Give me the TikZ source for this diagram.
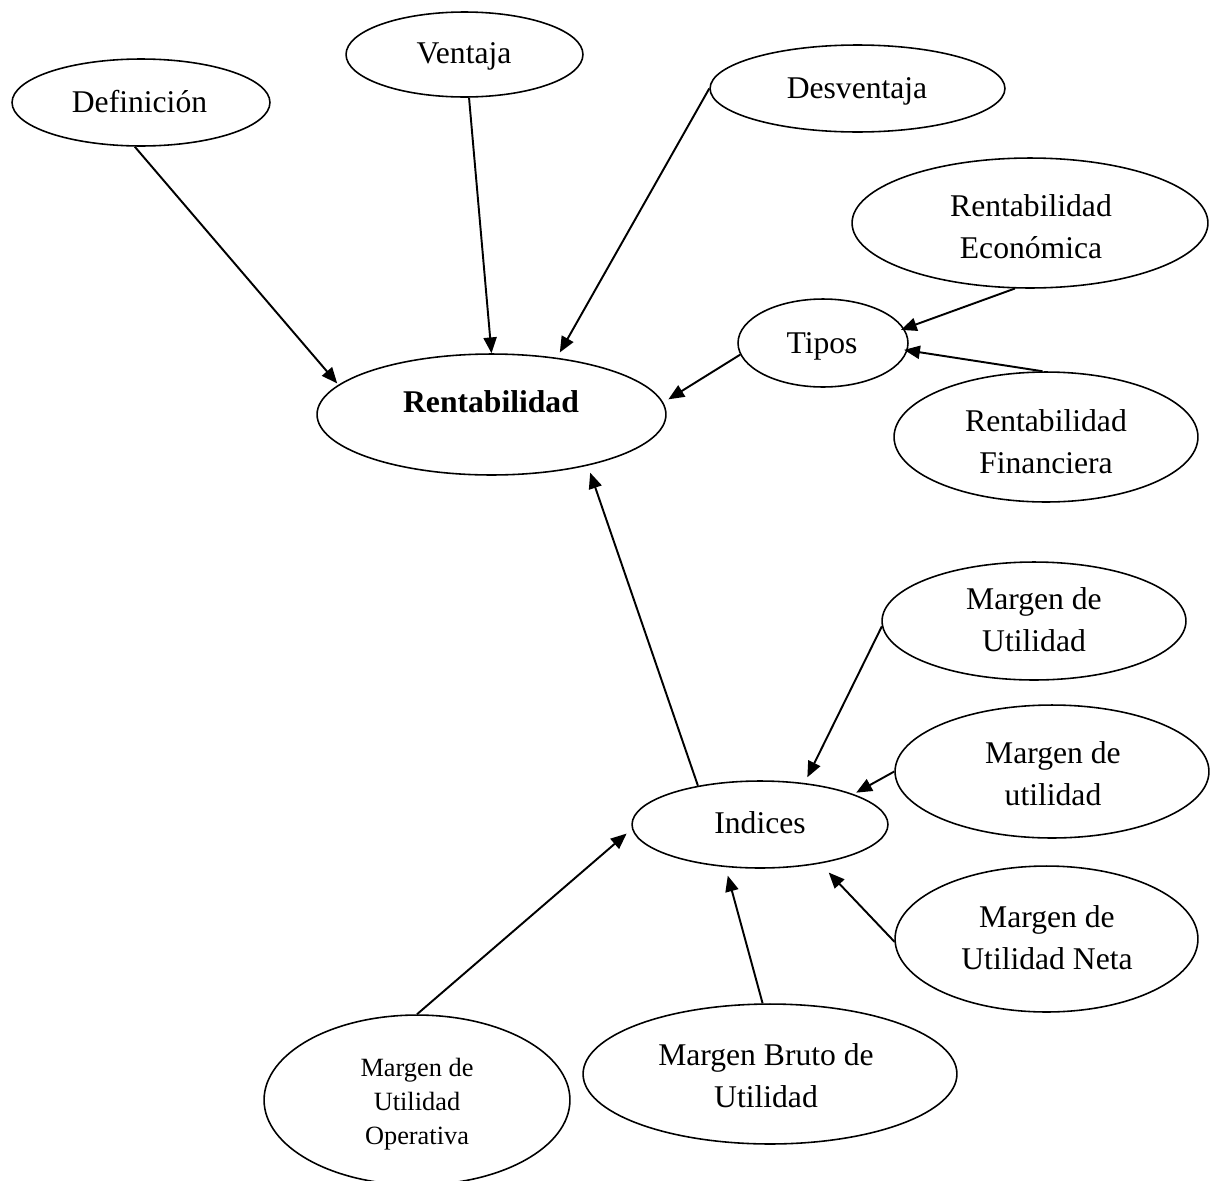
\documentclass[tikz,border=0pt]{standalone}
\usepackage{fontspec}
\setmainfont{Liberation Serif}
\usetikzlibrary{shapes.geometric,arrows.meta}
\begin{document}
\begin{tikzpicture}[x=0.02cm,y=-0.02cm,
  ell/.style 2 args={ellipse,draw,line width=0.9pt,inner sep=0pt,
    minimum width=#1*0.04cm,minimum height=#2*0.04cm},
  lbl/.style={anchor=base,inner sep=0pt,font=\fontsize{18}{24}\selectfont},
  lblsm/.style={anchor=base,inner sep=0pt,font=\fontsize{15}{19.6}\selectfont},
  conn/.style={line width=1.1pt,-{Triangle[length=9pt,width=7.5pt]}}]
\clip (0,0) rectangle (1217,1180);
\fill[white] (0,0) rectangle (1217,1180);

% ellipses
\node[ell={129}{43.5}]   (def)  at (141,102.5) {};
\node[ell={118.5}{42.5}] (ven)  at (464.5,54.5) {};
\node[ell={147.5}{43.5}] (des)  at (857.5,88.5) {};
\node[ell={178}{65}]     (eco)  at (1030,223) {};
\node[ell={85}{44}]      (tip)  at (823,343) {};
\node[ell={152}{65}]     (fin)  at (1046,437) {};
\node[ell={174.5}{60.5}] (ren)  at (491.5,414.5) {};
\node[ell={152}{59}]     (mu1)  at (1034,621) {};
\node[ell={157}{66.5}]   (mu2)  at (1052,771.5) {};
\node[ell={151.5}{73}]   (neta) at (1046.5,939) {};
\node[ell={128}{43.5}]   (ind)  at (760,824.5) {};
\node[ell={187}{70}]     (bru)  at (770,1074) {};
\node[ell={153}{85}]     (ope)  at (417,1100) {};

% texts
\node[lbl] (tdef) at (139.5,112) {Definición};
\node[lbl] (tven) at (464,63) {Ventaja};
\node[lbl] (tdes) at (857,98) {Desventaja};
\node[lbl] (teco) at (1031,216) {\begin{tabular}[t]{@{}c@{}}Rentabilidad\\Económica\end{tabular}};
\node[lbl] (ttip) at (822,353) {Tipos};
\node[lbl] (tfin) at (1046,431) {\begin{tabular}[t]{@{}c@{}}Rentabilidad\\Financiera\end{tabular}};
\node[lbl,font=\fontsize{18}{24}\selectfont\bfseries] (tren) at (491,412) {Rentabilidad};
\node[lbl] (tmu1) at (1034,609) {\begin{tabular}[t]{@{}c@{}}Margen de\\Utilidad\end{tabular}};
\node[lbl] (tmu2) at (1053,763) {\begin{tabular}[t]{@{}c@{}}Margen de\\utilidad\end{tabular}};
\node[lbl] (tneta) at (1047,927) {\begin{tabular}[t]{@{}c@{}}Margen de\\Utilidad Neta\end{tabular}};
\node[lbl] (tind) at (760,833) {Indices};
\node[lbl] (tbru) at (766,1065) {\begin{tabular}[t]{@{}c@{}}Margen Bruto de\\Utilidad\end{tabular}};
\node[lblsm] (tope) at (417,1076) {\begin{tabular}[t]{@{}c@{}}Margen de\\Utilidad\\Operativa\end{tabular}};

% connectors
\draw[conn,shorten >=1pt]   (def.262) -- (ren.169);
\draw[conn]                 (ven.276) -- (ren.90);
\draw[conn,shorten >=3.4pt] (des.180) -- (ren.41);
\draw[conn,shorten >=3.4pt] (tip.188) -- (ren.4);
\draw[conn,shorten >=-2pt]  (eco.257) -- (tip.10);
\draw[conn,shorten >=-2pt]  (fin.93) -- (tip.355);
\draw[conn,shorten >=4.2pt] (ind.148) -- (ren.332);
\draw[conn,shorten >=3.6pt] (mu1.182) -- (ind.43);
\draw[conn,shorten >=1.7pt] (mu2.180) -- (ind.18);
\draw[conn,shorten >=7pt]   (neta.181) -- (ind.327);
\draw[conn,shorten >=5pt]   (bru.96) -- (ind.231);
\draw[conn,shorten >=4pt]   (ope.90) -- (ind.182);
\end{tikzpicture}
\end{document}
